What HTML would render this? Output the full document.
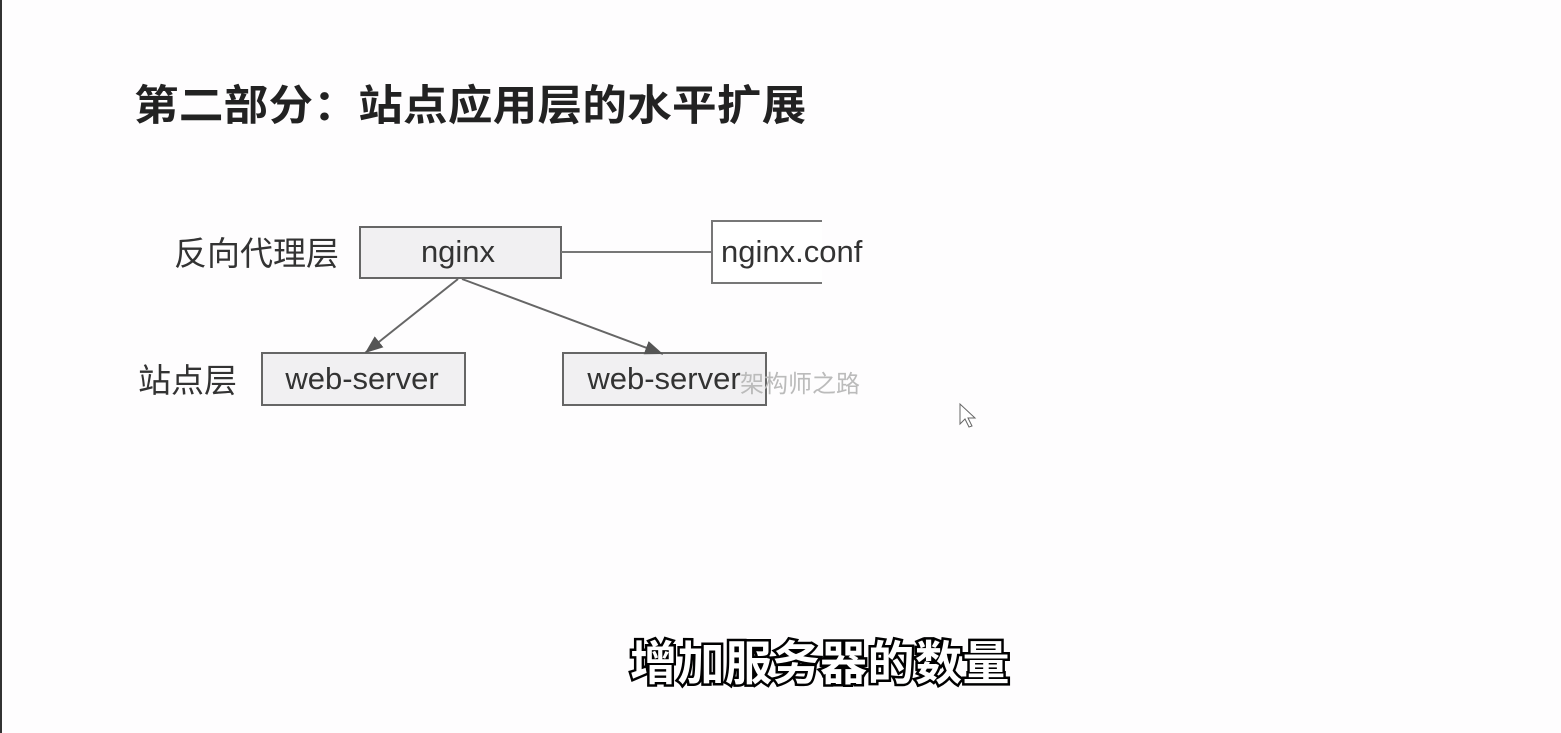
<!DOCTYPE html>
<html><head><meta charset="utf-8"><style>
body{margin:0;width:1561px;height:733px;background:#fefdfe;position:relative;overflow:hidden;font-family:"Liberation Sans","Noto Sans CJK SC",sans-serif}
.t{position:absolute;white-space:nowrap}
</style></head><body>
<div style="position:absolute;left:0;top:0;width:2px;height:733px;background:#333"></div>
<div class="t" style="left:134px;top:72px;font-size:42px;letter-spacing:0.3px;font-weight:bold;color:#222;transform:scaleX(1.06);transform-origin:left">第二部分：站点应用层的水平扩展</div>
<svg width="1561" height="733" style="position:absolute;left:0;top:0">
<defs><marker id="b" markerWidth="18" markerHeight="14" refX="18" refY="7" orient="auto" markerUnits="userSpaceOnUse"><path d="M0,0L18,7L0,14z" fill="#555"/></marker></defs>
<rect x="360" y="227" width="201" height="51" fill="#f1f0f2" stroke="#666" stroke-width="2"/>
<line x1="561" y1="252" x2="712" y2="252" stroke="#777" stroke-width="2"/>
<path d="M822,221H712V283H822" fill="#fff" stroke="#777" stroke-width="2"/>
<rect x="262" y="353" width="203" height="52" fill="#f1f0f2" stroke="#666" stroke-width="2"/>
<rect x="563" y="353" width="203" height="52" fill="#f1f0f2" stroke="#666" stroke-width="2"/>
<line x1="458" y1="279" x2="365" y2="353" stroke="#666" stroke-width="2" marker-end="url(#b)"/>
<line x1="462" y1="279" x2="663" y2="354" stroke="#666" stroke-width="2" marker-end="url(#b)"/>
<text x="458" y="262" font-size="31" text-anchor="middle" fill="#333" font-family="Liberation Sans,sans-serif">nginx</text>
<text x="721" y="262" font-size="31" fill="#333" font-family="Liberation Sans,sans-serif">nginx.conf</text>
<text x="362" y="389" font-size="31" text-anchor="middle" fill="#333" font-family="Liberation Sans,sans-serif">web-server</text>
<text x="664" y="389" font-size="31" text-anchor="middle" fill="#333" font-family="Liberation Sans,sans-serif">web-server</text>
<text x="740" y="392" font-size="24" fill="#bbb" font-family="Noto Sans CJK SC,sans-serif">架构师之路</text>
<text x="174" y="265" font-size="33" fill="#333" font-family="Noto Sans CJK SC,sans-serif">反向代理层</text>
<text x="138" y="392" font-size="33" fill="#333" font-family="Noto Sans CJK SC,sans-serif">站点层</text>
<text x="820" y="680" font-size="47" font-weight="bold" letter-spacing="0.5" text-anchor="middle" fill="#fff" stroke="#000" stroke-width="5" paint-order="stroke" font-family="Noto Sans CJK SC,sans-serif">增加服务器的数量</text>
<path d="M960,404v20l5,-5l4,8l3,-1l-4,-8h7z" fill="#fff" stroke="#666" stroke-width="1"/>
</svg>
</body></html>
